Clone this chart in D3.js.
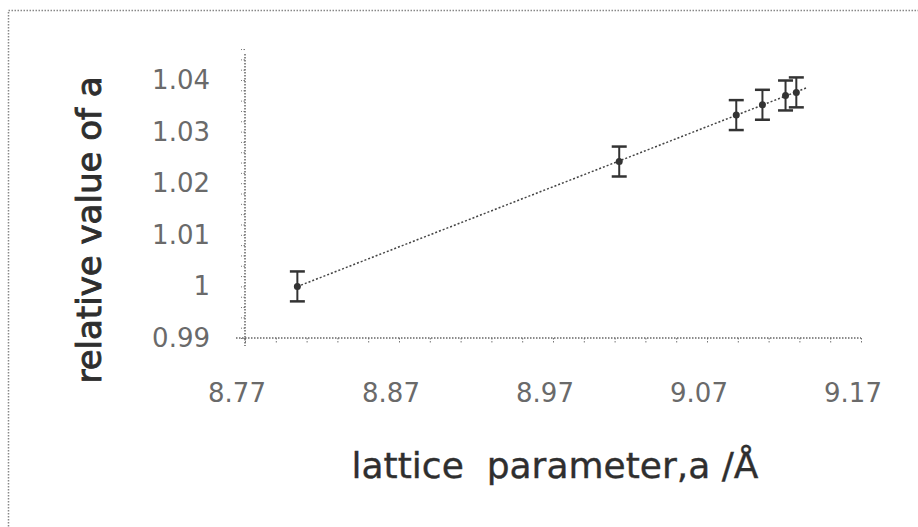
<!DOCTYPE html>
<html>
<head>
<meta charset="utf-8">
<script src="https://cdnjs.cloudflare.com/ajax/libs/d3/7.8.5/d3.min.js"></script>
<style>
  body { margin: 0; background: #fff; }
  .tickText { font-family: "DejaVu Sans", sans-serif; font-size: 26px; fill: #6a6a6a; }
  .aText { font-family: "DejaVu Sans", sans-serif; fill: #2e2e2e; }
</style>
</head>
<body>
<div id="chart"></div>
<script>
// data
var latticeA = [8.804, 9.013, 9.089, 9.106, 9.121, 9.128];
var relativeA = [1.000, 1.0242, 1.0332, 1.0352, 1.0370, 1.0376];
var errA = [0.0029, 0.0029, 0.0029, 0.0029, 0.0029, 0.0029];
var xTicks = [8.77, 8.87, 8.97, 9.07, 9.17];
var yTicks = [0.99, 1, 1.01, 1.02, 1.03, 1.04];

var svgWidth = 918;
var svgHeight = 527;

var margin = { top: 80, right: 57, bottom: 189, left: 245 };
var width = svgWidth - margin.left - margin.right;
var height = svgHeight - margin.top - margin.bottom;

var svg = d3.select("#chart")
    .append("svg")
    .attr("width", svgWidth)
    .attr("height", svgHeight);

// dotted frame round the whole picture
svg.append("rect")
    .attr("x", 8.5)
    .attr("y", 10.5)
    .attr("width", 940)
    .attr("height", 560)
    .attr("fill", "none")
    .attr("stroke", "#888")
    .attr("stroke-width", 1.5)
    .attr("stroke-dasharray", "1.5,1.5");

var chartGroup = svg.append("g")
    .attr("transform", `translate(${margin.left}, ${margin.top})`);

var data = latticeA.map(function(d, i) {
    return { a: d, rel: relativeA[i], err: errA[i] };
});

var xScale = d3.scaleLinear()
    .domain([8.77, 9.17])
    .range([0, width]);

var yScale = d3.scaleLinear()
    .domain([0.99, 1.04])
    .range([height, 0]);

// minor ticks
var xMinor = d3.range(0, 21).map(i => 8.77 + i * 0.02);
var yMinor = d3.range(0, 29).map(i => 0.99 + i * 0.002);

var xAxis = d3.axisBottom(xScale)
    .tickValues(xMinor)
    .tickSize(5)
    .tickFormat("");
var yAxis = d3.axisLeft(yScale)
    .tickValues(yMinor)
    .tickSize(4)
    .tickFormat("");

var gx = chartGroup.append("g")
    .attr("transform", `translate(0, ${height})`)
    .call(xAxis);
var gy = chartGroup.append("g")
    .call(yAxis);

[gx, gy].forEach(function(g) {
    g.select(".domain").remove();
    g.selectAll(".tick line")
        .attr("stroke", "#777")
        .attr("stroke-dasharray", "1.5,1.5");
});

// axis lines (dotted)
chartGroup.append("line")
    .attr("x1", -9).attr("x2", width)
    .attr("y1", height).attr("y2", height)
    .attr("stroke", "#666")
    .attr("stroke-width", 1.5)
    .attr("stroke-dasharray", "1.5,1.5");
chartGroup.append("line")
    .attr("x1", 0).attr("x2", 0)
    .attr("y1", -26).attr("y2", height + 8)
    .attr("stroke", "#666")
    .attr("stroke-width", 1.5)
    .attr("stroke-dasharray", "1.5,1.5");

// tick labels
chartGroup.selectAll(".xlab")
    .data(xTicks)
    .enter()
    .append("text")
    .attr("class", "tickText")
    .attr("x", d => xScale(d) - 8)
    .attr("y", height + 64)
    .attr("text-anchor", "middle")
    .text(d => d.toFixed(2));

chartGroup.selectAll(".ylab")
    .data(yTicks)
    .enter()
    .append("text")
    .attr("class", "tickText")
    .attr("x", -35)
    .attr("y", d => yScale(d) + 9)
    .attr("text-anchor", "end")
    .text(d => d === 1 ? "1" : d.toFixed(2));

// fitted line (least squares through the points)
var mx = d3.mean(data, d => d.a);
var my = d3.mean(data, d => d.rel);
var slope = d3.sum(data, d => (d.a - mx) * (d.rel - my)) / d3.sum(data, d => (d.a - mx) * (d.a - mx));
var fit = x => my + slope * (x - mx);
var x0 = latticeA[0], x1 = 9.135;
chartGroup.append("line")
    .attr("x1", xScale(x0)).attr("y1", yScale(fit(x0)))
    .attr("x2", xScale(x1)).attr("y2", yScale(fit(x1)))
    .attr("stroke", "#444")
    .attr("stroke-width", 1.5)
    .attr("stroke-dasharray", "2,2");

// error bars
var bars = chartGroup.selectAll(".ebar")
    .data(data)
    .enter()
    .append("g")
    .attr("class", "ebar");

bars.append("line")
    .attr("x1", d => xScale(d.a)).attr("x2", d => xScale(d.a))
    .attr("y1", d => yScale(d.rel + d.err)).attr("y2", d => yScale(d.rel - d.err))
    .attr("stroke", "#333").attr("stroke-width", 2);
bars.append("line")
    .attr("x1", d => xScale(d.a) - 7.5).attr("x2", d => xScale(d.a) + 7.5)
    .attr("y1", d => yScale(d.rel + d.err)).attr("y2", d => yScale(d.rel + d.err))
    .attr("stroke", "#333").attr("stroke-width", 2.5);
bars.append("line")
    .attr("x1", d => xScale(d.a) - 7.5).attr("x2", d => xScale(d.a) + 7.5)
    .attr("y1", d => yScale(d.rel - d.err)).attr("y2", d => yScale(d.rel - d.err))
    .attr("stroke", "#333").attr("stroke-width", 2.5);
bars.append("circle")
    .attr("cx", d => xScale(d.a))
    .attr("cy", d => yScale(d.rel))
    .attr("r", 3.5)
    .attr("fill", "#333");

// axis titles
svg.append("text")
    .attr("class", "aText")
    .attr("transform", "translate(101, 230) rotate(-90)")
    .attr("text-anchor", "middle")
    .attr("font-size", 34)
    .attr("stroke", "#2e2e2e")
    .attr("stroke-width", 0.9)
    .text("relative value of a");

svg.append("text")
    .attr("class", "aText")
    .attr("x", 555)
    .attr("y", 478)
    .attr("text-anchor", "middle")
    .attr("font-size", 36)
    .attr("fill", "#3a3a3a")
    .attr("stroke", "#3a3a3a")
    .attr("stroke-width", 0.4)
    .style("white-space", "pre")
    .text("lattice  parameter,a /Å");
</script>
</body>
</html>
